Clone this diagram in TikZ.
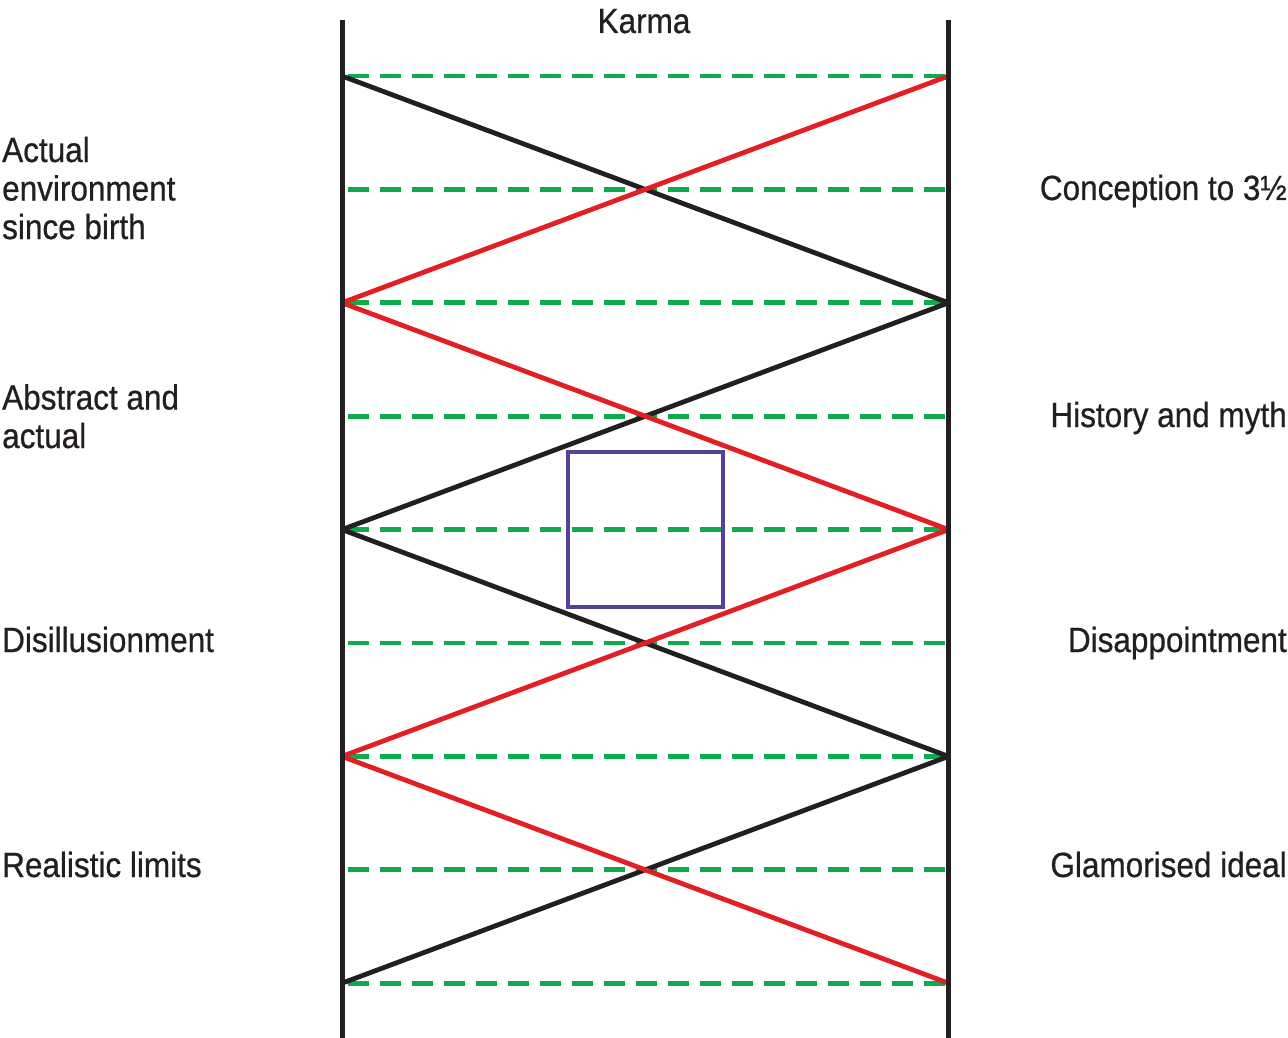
\documentclass[tikz,border=0pt]{standalone}
\usepackage{fontspec}
\setmainfont{Liberation Sans}[FakeStretch=0.9,FakeBold=0.6]
\definecolor{ink}{HTML}{231F20}
\definecolor{dgreen}{HTML}{0DAB4B}
\definecolor{dred}{HTML}{E31F26}
\definecolor{dpurple}{HTML}{56409A}
\begin{document}
\begin{tikzpicture}[x=1pt,y=-1pt,
  rail/.style={draw=ink,line width=5pt},
  zig/.style={line width=4.8pt,line join=miter},
  level/.style={draw=dgreen,line width=4.8pt,dash pattern=on 21pt off 11pt},
  lbl/.style={inner sep=0pt,text=ink,font=\fontsize{35}{38.5}\selectfont,align=left},
  rlbl/.style={inner sep=0pt,text=ink,font=\fontsize{35}{38.5}\selectfont,align=right}]
\useasboundingbox (0,0) rectangle (1288,1038);
% rails
\coordinate (LT) at (342,20);
\coordinate (LB) at (342,1038);
\coordinate (RT) at (948.5,20);
\coordinate (RB) at (948.5,1038);
% level points
\foreach \i in {0,...,8}{
  \coordinate (L\i) at (342,{76+113.4*\i});
  \coordinate (R\i) at (948.5,{76+113.4*\i});
  \coordinate (DL\i) at (348,{76+113.4*\i});
  \coordinate (DR\i) at (946,{76+113.4*\i});
}
% dashed levels
\foreach \i in {0,...,8}{
  \draw[level] (DL\i) -- (DR\i);
}
\begin{scope}
\clip (342,0) rectangle (948.5,1038);
% black zigzag
\draw[zig,draw=ink] (L0) -- (R2) -- (L4) -- (R6) -- (L8);
% red zigzag
\draw[zig,draw=dred] (R0) -- (L2) -- (R4) -- (L6) -- (R8);
\end{scope}
% rails on top
\draw[rail] (LT) -- (LB);
\draw[rail] (RT) -- (RB);
% purple square
\node[draw=dpurple,line width=4.5pt,minimum width=155pt,minimum height=155pt,inner sep=0pt] (box) at (645.5,529.5) {};
% title
\node[lbl,anchor=base] (karma) at (644,33) {Karma};
% left labels (base = last line)
\node[lbl,anchor=base west] (l1) at (2,239) {Actual\\environment\\since birth};
\node[lbl,anchor=base west] (l2) at (2,448) {Abstract and\\actual};
\node[lbl,anchor=base west] (l3) at (2,652) {Disillusionment};
\node[lbl,anchor=base west] (l4) at (2,877) {Realistic limits};
% right labels
\node[rlbl,anchor=base east] (r1) at (1287,200) {Conception to 3½};
\node[rlbl,anchor=base east] (r2) at (1287,427) {History and myth};
\node[rlbl,anchor=base east] (r3) at (1287,652) {Disappointment};
\node[rlbl,anchor=base east] (r4) at (1287,877) {Glamorised ideal};
\end{tikzpicture}
\end{document}
